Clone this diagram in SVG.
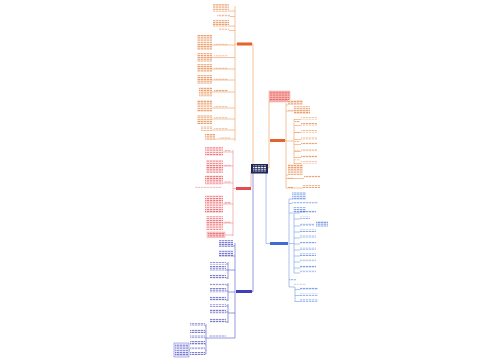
<svg xmlns="http://www.w3.org/2000/svg" width="500" height="360" viewBox="0 0 500 360">
<defs>
<pattern id="tO" width="3" height="2.2" patternUnits="userSpaceOnUse"><rect width="2.4" height="1" fill="#e07a38" fill-opacity="0.75"/></pattern>
<pattern id="tR" width="3" height="2.2" patternUnits="userSpaceOnUse"><rect width="2.4" height="1" fill="#e0444a" fill-opacity="0.75"/></pattern>
<pattern id="tB" width="3" height="2.2" patternUnits="userSpaceOnUse"><rect width="2.4" height="1" fill="#4a7ad6" fill-opacity="0.75"/></pattern>
<pattern id="tP" width="3" height="2.2" patternUnits="userSpaceOnUse"><rect width="2.4" height="1" fill="#4043b8" fill-opacity="0.75"/></pattern>
<pattern id="tW" width="3" height="2.2" patternUnits="userSpaceOnUse"><rect width="2.4" height="1" fill="#ffffff"/></pattern>
<style>
.o{fill:url(#tO)} .r{fill:url(#tR)} .b{fill:url(#tB)} .p{fill:url(#tP)}
.bo{fill:#fdf3ec} .br{fill:#fff0f0} .bb{fill:#eef3ff} .bp{fill:#f1f1ff}
.co,.cr,.cb,.cp{fill:none;stroke-width:0.6}
.co{stroke:#ec9a5c} .cr{stroke:#ee8585} .cb{stroke:#7b9be0} .cp{stroke:#5558c8}
</style>
</defs>
<rect width="500" height="360" fill="#ffffff"/>

<g id="connectors">
<path class="co" d="M253,164V44H252M235,6V141M235,44H237M229,11H235M230,16.5H235M229,26H235M229,30.5H235M212,45H235M212,57.5H235M212,69H235M212,80H235M212,92H235M212,108H235M212,119H235M212,130H235M215,139H235"/>
<path class="cr" d="M252,171H251V187M233,150V236M233,188.5H236M223,152H233M223,166H233M223,183H233M223,204H233M223,223H233M225,235H233"/>
<path class="cp" d="M253,173V291.5H252M235,243V338M233,246H235M233,256H235M228,270H235M228,262V279M226,264H228M226,270H228M226,278H228M228,292H235M228,283V301M226,285H228M226,291H228M226,300H228M228,313H235M228,304V323M226,306H228M226,312H228M226,322H228M235,338H206M206,324V354M205,326H206M205,332H206M205,338H206M205,344H206M205,350H206M205,354H206M189,350H190"/>
<path class="co" d="M268,168H269V102M286,103V188M285,140.5H286M286,105H288M286,111H294M286,141H294M294,119V164M294,119.5H301M294,125.5H301M294,132.5H301M294,139.5H301M294,144.5H301M294,151.5H301M294,157.5H301M294,163.5H301M286,175H288M286,178.5H304M286,188H303"/>
<path class="cb" d="M266,173V243.5H270M289,199V287M289,199H292M289,203.5H292M289,213H293M289,243.5H294M294,213V273M294,213H300M294,219H300M294,226H300M294,232H300M294,238H300M294,244H300M294,250H300M294,256H300M294,262H300M294,268H300M294,273H300M289,287H295M295,287V302M295,289.5H300M295,295.5H300M295,301.5H300"/>
</g>

<g id="center"><rect x="251" y="164" width="17" height="9.5" fill="#1d2657"/><rect x="253" y="165.5" width="13" height="6.5" fill="url(#tW)"/></g>

<g id="b1"><rect x="237" y="42.5" width="15" height="3" fill="#e4622c"/></g>
<g id="b1-l1"><rect class="bo" x="213" y="4" width="16" height="7.5"/><rect class="o" x="213" y="4" width="16" height="7.5"/></g>
<g id="b1-l2"><rect class="o" x="217" y="14.5" width="13" height="2"/></g>
<g id="b1-l3"><rect class="bo" x="213" y="20" width="16" height="6.5"/><rect class="o" x="213" y="20" width="16" height="6.5"/></g>
<g id="b1-l4"><rect class="o" x="219" y="28.5" width="10" height="2"/></g>
<g id="b1-l5"><rect class="bo" x="197" y="35" width="15" height="15"/><rect class="o" x="197" y="35" width="15" height="15"/><rect class="o" x="214" y="43" width="14" height="1.5"/></g>
<g id="b1-l6"><rect class="bo" x="197" y="53" width="15" height="9"/><rect class="o" x="197" y="53" width="15" height="9"/><rect class="o" x="214" y="55.5" width="14" height="1.5"/></g>
<g id="b1-l7"><rect class="bo" x="197" y="64" width="15" height="8"/><rect class="o" x="197" y="64" width="15" height="8"/><rect class="o" x="214" y="67" width="14" height="1.5"/></g>
<g id="b1-l8"><rect class="bo" x="197" y="75" width="15" height="9"/><rect class="o" x="197" y="75" width="15" height="9"/><rect class="o" x="214" y="78" width="14" height="1.5"/></g>
<g id="b1-l9"><rect class="bo" x="199" y="87" width="13" height="10"/><rect class="o" x="199" y="87" width="13" height="10"/><rect class="o" x="214" y="90" width="14" height="1.5"/></g>
<g id="b1-l10"><rect class="bo" x="197" y="100" width="15" height="12"/><rect class="o" x="197" y="100" width="15" height="12"/><rect class="o" x="214" y="106" width="14" height="1.5"/></g>
<g id="b1-l11"><rect class="bo" x="197" y="115" width="15" height="9"/><rect class="o" x="197" y="115" width="15" height="9"/><rect class="o" x="214" y="117" width="14" height="1.5"/></g>
<g id="b1-l12"><rect class="o" x="201" y="126" width="11" height="5"/><rect class="o" x="214" y="128" width="14" height="1.5"/></g>
<g id="b1-l13"><rect class="bo" x="205" y="134" width="10" height="6"/><rect class="o" x="205" y="134" width="10" height="6"/><rect class="o" x="220" y="137" width="10" height="1.5"/></g>

<g id="b2"><rect x="236" y="187" width="15" height="3" fill="#e34d50"/></g>
<g id="b2-l1"><rect class="br" x="205" y="147" width="18" height="9"/><rect class="r" x="205" y="147" width="18" height="9"/><rect class="r" x="224" y="150" width="7" height="1.5"/></g>
<g id="b2-l2"><rect class="br" x="206" y="160" width="17" height="13"/><rect class="r" x="206" y="160" width="17" height="13"/><rect class="r" x="224" y="164" width="7" height="1.5"/></g>
<g id="b2-l3"><rect class="br" x="205" y="175" width="18" height="10"/><rect class="r" x="205" y="175" width="18" height="10"/><rect class="r" x="195" y="186" width="27" height="1.5"/><rect class="r" x="224" y="181" width="7" height="1.5"/></g>
<g id="b2-l4"><rect class="br" x="205" y="195" width="18" height="18"/><rect class="r" x="205" y="195" width="18" height="18"/><rect class="r" x="224" y="202" width="7" height="1.5"/></g>
<g id="b2-l5"><rect class="br" x="206" y="216" width="17" height="14"/><rect class="r" x="206" y="216" width="17" height="14"/><rect class="r" x="224" y="221" width="7" height="1.5"/></g>
<g id="b2-l6"><rect x="207" y="232" width="18" height="5.5" fill="#fbd6d6" stroke="#ee8585" stroke-width="0.4"/><rect class="r" x="208" y="232.5" width="16" height="4.5"/></g>

<g id="b3"><rect x="236" y="290" width="16" height="3" fill="#3e40b8"/></g>
<g id="b3-l1"><rect class="bp" x="219" y="240" width="14" height="7"/><rect class="p" x="219" y="240" width="14" height="7"/></g>
<g id="b3-l2"><rect class="bp" x="219" y="250" width="14" height="7"/><rect class="p" x="219" y="250" width="14" height="7"/></g>
<g id="b3-s1"><rect class="p" x="210" y="262" width="16" height="2.5"/><rect class="p" x="210" y="266" width="16" height="5"/><rect class="p" x="210" y="274" width="16" height="4.5"/></g>
<g id="b3-s2"><rect class="p" x="210" y="283" width="16" height="3"/><rect class="p" x="210" y="288" width="16" height="4.5"/><rect class="p" x="210" y="296" width="16" height="4.5"/></g>
<g id="b3-s3"><rect class="p" x="210" y="304" width="16" height="3"/><rect class="p" x="210" y="309" width="16" height="4.5"/><rect class="p" x="210" y="318" width="16" height="4.5"/></g>
<g id="b3-s4"><rect class="p" x="209" y="335" width="17" height="2"/><rect class="p" x="190" y="323" width="15" height="3"/><rect class="p" x="190" y="329" width="15" height="4"/><rect class="p" x="190" y="335" width="15" height="4"/><rect class="p" x="190" y="341" width="15" height="4"/><rect class="p" x="190" y="347" width="15" height="3"/><rect class="p" x="190" y="352" width="15" height="3"/></g>
<g id="b3-box"><rect x="174" y="343" width="15" height="14" fill="#eef0ff" stroke="#6a6ad0" stroke-width="0.5"/><rect class="p" x="175" y="344" width="13" height="12"/></g>

<g id="b4"><rect x="270" y="139" width="15" height="3" fill="#e4622c"/></g>
<g id="b4-note"><rect x="269" y="91" width="21" height="11" fill="#f7b9b4" stroke="#ea8a84" stroke-width="0.4"/><rect class="r" x="270" y="92" width="19" height="9"/></g>
<g id="b4-l1"><rect class="bo" x="288" y="100" width="15" height="5"/><rect class="o" x="288" y="100" width="15" height="5"/></g>
<g id="b4-l2"><rect class="o" x="288" y="109" width="5" height="1.5"/><rect class="bo" x="294" y="106" width="16" height="8"/><rect class="o" x="294" y="106" width="16" height="8"/></g>
<g id="b4-s"><rect class="o" x="295" y="121" width="5" height="1.5"/><rect class="o" x="295" y="131" width="5" height="1.5"/><rect class="o" x="295" y="141" width="5" height="1.5"/><rect class="o" x="295" y="150" width="5" height="1.5"/><rect class="o" x="295" y="159" width="5" height="1.5"/>
<rect class="o" x="301" y="117" width="16" height="2.5"/><rect class="o" x="301" y="123" width="16" height="2.5"/><rect class="o" x="301" y="130" width="16" height="2.5"/><rect class="o" x="301" y="137" width="16" height="2.5"/><rect class="o" x="301" y="142" width="16" height="2.5"/><rect class="o" x="301" y="149" width="16" height="2.5"/><rect class="o" x="301" y="155" width="16" height="2.5"/><rect class="o" x="301" y="161" width="16" height="2.5"/></g>
<g id="b4-l3"><rect class="bo" x="288" y="164" width="15" height="11"/><rect class="o" x="288" y="164" width="15" height="11"/></g>
<g id="b4-l4"><rect class="o" x="288" y="177" width="5" height="1.5"/><rect class="o" x="304" y="175" width="16" height="3"/></g>
<g id="b4-l5"><rect class="o" x="288" y="186.5" width="5" height="1.5"/><rect class="o" x="303" y="185" width="17" height="3"/></g>

<g id="b5"><rect x="270" y="242" width="18" height="3" fill="#3d6dd4"/></g>
<g id="b5-l1"><rect class="bb" x="292" y="192" width="14" height="8"/><rect class="b" x="292" y="192" width="14" height="8"/></g>
<g id="b5-l2"><rect class="b" x="292" y="202" width="26" height="1.5"/></g>
<g id="b5-l3"><rect class="b" x="293" y="207" width="13" height="6"/></g>
<g id="b5-s"><rect class="b" x="300" y="210.5" width="16" height="2.5"/><rect class="b" x="300" y="216.5" width="10" height="2.5"/><rect class="b" x="300" y="223.5" width="14" height="2.5"/><rect class="bb" x="316" y="221" width="12" height="6"/><rect class="b" x="316" y="221" width="12" height="6"/><rect class="b" x="300" y="229.5" width="16" height="2.5"/><rect class="b" x="300" y="235.5" width="16" height="2.5"/><rect class="b" x="300" y="241.5" width="16" height="2.5"/><rect class="b" x="300" y="247.5" width="16" height="2.5"/><rect class="b" x="300" y="253.5" width="16" height="2.5"/><rect class="b" x="300" y="259.5" width="16" height="2.5"/><rect class="b" x="300" y="265.5" width="16" height="2.5"/><rect class="b" x="300" y="270.5" width="16" height="2.5"/></g>
<g id="b5-l4"><rect class="b" x="289" y="279" width="7" height="1.5"/><rect class="b" x="293" y="283" width="13" height="1.5"/></g>
<g id="b5-s2"><rect class="b" x="300" y="287.5" width="18" height="2.5"/><rect class="b" x="300" y="293.5" width="18" height="2.5"/><rect class="b" x="300" y="299.5" width="18" height="2.5"/></g>
</svg>
